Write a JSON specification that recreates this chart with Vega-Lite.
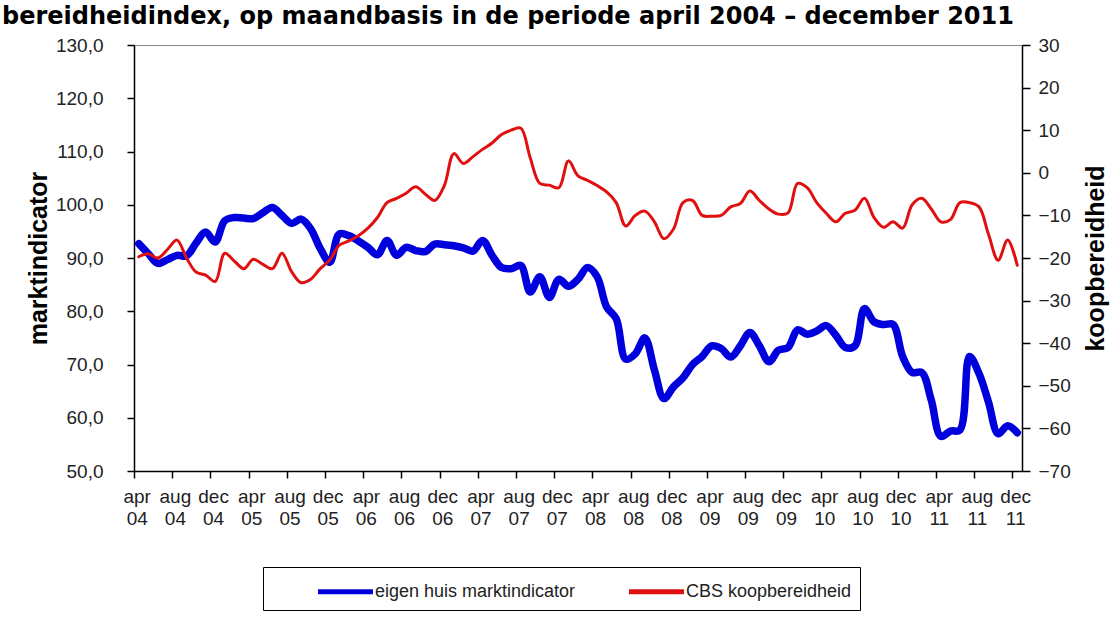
{
  "$schema": "https://vega.github.io/schema/vega-lite/v6.json",
  "width": 888,
  "height": 426,
  "autosize": {"type": "none"},
  "padding": {"left": 134, "top": 45, "right": 90, "bottom": 148},
  "background": "white",
  "title": {
    "text": "bereidheidindex, op maandbasis in de periode april 2004 – december 2011",
    "anchor": "start", "frame": "group", "dx": -132, "offset": -12,
    "baseline": "alphabetic", "font": "DejaVu Sans", "fontSize": 24, "fontWeight": "bold", "color": "black"
  },
  "config": {
    "view": {"stroke": "#888888", "strokeWidth": 1},
    "axis": {"grid": false, "domainColor": "black", "domainWidth": 1.5, "tickColor": "black", "tickWidth": 1.5,
             "labelFont": "Liberation Sans", "labelColor": "#222222", "titleFont": "Liberation Sans", "titleColor": "black"}
  },
  "data": {"values": [
    {"maand": 0, "marktindicator": 92.7, "koopbereidheid": -19.7},
    {"maand": 1, "marktindicator": 90.8, "koopbereidheid": -19.0},
    {"maand": 2, "marktindicator": 89.0, "koopbereidheid": -20.0},
    {"maand": 3, "marktindicator": 89.7, "koopbereidheid": -18.0},
    {"maand": 4, "marktindicator": 90.5, "koopbereidheid": -15.8},
    {"maand": 5, "marktindicator": 90.4, "koopbereidheid": -20.0},
    {"maand": 6, "marktindicator": 92.8, "koopbereidheid": -23.3},
    {"maand": 7, "marktindicator": 94.9, "koopbereidheid": -24.0},
    {"maand": 8, "marktindicator": 93.0, "koopbereidheid": -25.5},
    {"maand": 9, "marktindicator": 97.0, "koopbereidheid": -18.9},
    {"maand": 10, "marktindicator": 97.6, "koopbereidheid": -20.7},
    {"maand": 11, "marktindicator": 97.5, "koopbereidheid": -22.5},
    {"maand": 12, "marktindicator": 97.4, "koopbereidheid": -20.3},
    {"maand": 13, "marktindicator": 98.5, "koopbereidheid": -21.5},
    {"maand": 14, "marktindicator": 99.5, "koopbereidheid": -22.5},
    {"maand": 15, "marktindicator": 98.0, "koopbereidheid": -18.9},
    {"maand": 16, "marktindicator": 96.5, "koopbereidheid": -23.2},
    {"maand": 17, "marktindicator": 97.3, "koopbereidheid": -25.8},
    {"maand": 18, "marktindicator": 95.5, "koopbereidheid": -25.0},
    {"maand": 19, "marktindicator": 91.8, "koopbereidheid": -22.5},
    {"maand": 20, "marktindicator": 89.2, "koopbereidheid": -20.5},
    {"maand": 21, "marktindicator": 94.5, "koopbereidheid": -17.0},
    {"maand": 22, "marktindicator": 94.2, "koopbereidheid": -16.0},
    {"maand": 23, "marktindicator": 93.2, "koopbereidheid": -14.8},
    {"maand": 24, "marktindicator": 92.0, "koopbereidheid": -13.0},
    {"maand": 25, "marktindicator": 90.6, "koopbereidheid": -10.5},
    {"maand": 26, "marktindicator": 93.3, "koopbereidheid": -7.0},
    {"maand": 27, "marktindicator": 90.5, "koopbereidheid": -6.0},
    {"maand": 28, "marktindicator": 92.0, "koopbereidheid": -4.8},
    {"maand": 29, "marktindicator": 91.4, "koopbereidheid": -3.3},
    {"maand": 30, "marktindicator": 91.2, "koopbereidheid": -5.0},
    {"maand": 31, "marktindicator": 92.6, "koopbereidheid": -6.5},
    {"maand": 32, "marktindicator": 92.5, "koopbereidheid": -3.0},
    {"maand": 33, "marktindicator": 92.3, "koopbereidheid": 4.5},
    {"maand": 34, "marktindicator": 91.9, "koopbereidheid": 2.2},
    {"maand": 35, "marktindicator": 91.3, "koopbereidheid": 3.8},
    {"maand": 36, "marktindicator": 93.3, "koopbereidheid": 5.5},
    {"maand": 37, "marktindicator": 90.5, "koopbereidheid": 7.0},
    {"maand": 38, "marktindicator": 88.2, "koopbereidheid": 9.0},
    {"maand": 39, "marktindicator": 88.0, "koopbereidheid": 10.0},
    {"maand": 40, "marktindicator": 88.6, "koopbereidheid": 10.5},
    {"maand": 41, "marktindicator": 83.6, "koopbereidheid": 3.5},
    {"maand": 42, "marktindicator": 86.5, "koopbereidheid": -2.5},
    {"maand": 43, "marktindicator": 82.6, "koopbereidheid": -2.9},
    {"maand": 44, "marktindicator": 86.0, "koopbereidheid": -3.5},
    {"maand": 45, "marktindicator": 84.7, "koopbereidheid": 2.8},
    {"maand": 46, "marktindicator": 86.0, "koopbereidheid": -0.7},
    {"maand": 47, "marktindicator": 88.2, "koopbereidheid": -1.8},
    {"maand": 48, "marktindicator": 86.5, "koopbereidheid": -3.0},
    {"maand": 49, "marktindicator": 80.8, "koopbereidheid": -4.5},
    {"maand": 50, "marktindicator": 78.6, "koopbereidheid": -7.0},
    {"maand": 51, "marktindicator": 71.0, "koopbereidheid": -12.5},
    {"maand": 52, "marktindicator": 72.0, "koopbereidheid": -10.0},
    {"maand": 53, "marktindicator": 75.0, "koopbereidheid": -9.0},
    {"maand": 54, "marktindicator": 69.0, "koopbereidheid": -11.5},
    {"maand": 55, "marktindicator": 63.6, "koopbereidheid": -15.5},
    {"maand": 56, "marktindicator": 65.8, "koopbereidheid": -13.2},
    {"maand": 57, "marktindicator": 67.5, "koopbereidheid": -7.0},
    {"maand": 58, "marktindicator": 70.0, "koopbereidheid": -6.5},
    {"maand": 59, "marktindicator": 71.5, "koopbereidheid": -10.0},
    {"maand": 60, "marktindicator": 73.5, "koopbereidheid": -10.2},
    {"maand": 61, "marktindicator": 73.0, "koopbereidheid": -10.0},
    {"maand": 62, "marktindicator": 71.4, "koopbereidheid": -8.0},
    {"maand": 63, "marktindicator": 73.5, "koopbereidheid": -7.2},
    {"maand": 64, "marktindicator": 76.0, "koopbereidheid": -4.3},
    {"maand": 65, "marktindicator": 73.5, "koopbereidheid": -6.5},
    {"maand": 66, "marktindicator": 70.5, "koopbereidheid": -8.5},
    {"maand": 67, "marktindicator": 72.7, "koopbereidheid": -9.7},
    {"maand": 68, "marktindicator": 73.2, "koopbereidheid": -9.4},
    {"maand": 69, "marktindicator": 76.5, "koopbereidheid": -2.5},
    {"maand": 70, "marktindicator": 75.7, "koopbereidheid": -3.5},
    {"maand": 71, "marktindicator": 76.3, "koopbereidheid": -7.0},
    {"maand": 72, "marktindicator": 77.3, "koopbereidheid": -9.5},
    {"maand": 73, "marktindicator": 75.5, "koopbereidheid": -11.5},
    {"maand": 74, "marktindicator": 73.2, "koopbereidheid": -9.5},
    {"maand": 75, "marktindicator": 73.5, "koopbereidheid": -8.8},
    {"maand": 76, "marktindicator": 80.5, "koopbereidheid": -6.0},
    {"maand": 77, "marktindicator": 78.0, "koopbereidheid": -10.5},
    {"maand": 78, "marktindicator": 77.5, "koopbereidheid": -12.8},
    {"maand": 79, "marktindicator": 77.5, "koopbereidheid": -11.5},
    {"maand": 80, "marktindicator": 71.5, "koopbereidheid": -13.0},
    {"maand": 81, "marktindicator": 68.5, "koopbereidheid": -7.5},
    {"maand": 82, "marktindicator": 68.5, "koopbereidheid": -6.0},
    {"maand": 83, "marktindicator": 63.3, "koopbereidheid": -8.5},
    {"maand": 84, "marktindicator": 56.5, "koopbereidheid": -11.5},
    {"maand": 85, "marktindicator": 57.5, "koopbereidheid": -11.0},
    {"maand": 86, "marktindicator": 57.7, "koopbereidheid": -7.0},
    {"maand": 87, "marktindicator": 71.5, "koopbereidheid": -7.0},
    {"maand": 88, "marktindicator": 68.3, "koopbereidheid": -8.0},
    {"maand": 89, "marktindicator": 62.9, "koopbereidheid": -14.5},
    {"maand": 90, "marktindicator": 57.0, "koopbereidheid": -20.5},
    {"maand": 91, "marktindicator": 58.5, "koopbereidheid": -15.8},
    {"maand": 92, "marktindicator": 57.2, "koopbereidheid": -21.7}
  ]},
  "encoding": {
    "x": {
      "field": "maand", "type": "quantitative",
      "scale": {"domain": [-0.5, 92.5], "nice": false, "zero": false},
      "axis": {
        "title": null,
        "values": [0, 4, 8, 12, 16, 20, 24, 28, 32, 36, 40, 44, 48, 52, 56, 60, 64, 68, 72, 76, 80, 84, 88, 92],
        "tickOffset": -4.77, "labelOffset": 2.7, "tickSize": 7,
        "labelExpr": "[['apr','aug','dec'][(datum.value/4)%3], slice('0' + (4 + floor(datum.value/12)), -2)]",
        "labelFontSize": 19, "labelLineHeight": 22, "labelPadding": 9, "labelFlush": false, "labelOverlap": false
      }
    }
  },
  "layer": [
    {
      "mark": {"type": "line", "strokeWidth": 7.5, "interpolate": "catmull-rom", "strokeCap": "round", "strokeJoin": "round"},
      "encoding": {
        "y": {
          "field": "marktindicator", "type": "quantitative",
          "scale": {"domain": [50, 130], "nice": false, "zero": false},
          "axis": {
            "title": "marktindicator", "titleFontSize": 25, "titleFontWeight": "bold",
            "values": [50, 60, 70, 80, 90, 100, 110, 120, 130],
            "labelExpr": "replace(format(datum.value, '.1f'), '.', ',')",
            "labelFontSize": 19, "tickSize": 7, "labelPadding": 24, "titlePadding": 4
          }
        },
        "color": {
          "datum": "eigen huis marktindicator",
          "scale": {"domain": ["eigen huis marktindicator", "CBS koopbereidheid"], "range": ["#0000dd", "#e01010"]},
          "legend": {
            "title": null, "orient": "none", "legendX": 129, "legendY": 522, "direction": "horizontal",
            "strokeColor": "black", "padding": 8, "symbolOffset": 58, "symbolType": "M-2,0H2",
            "symbolSize": 756, "symbolStrokeWidth": 5, "labelFont": "Liberation Sans", "labelFontSize": 18,
            "labelColor": "#222222", "labelOffset": 13, "labelLimit": 400, "columnPadding": 6
          }
        }
      }
    },
    {
      "mark": {"type": "line", "strokeWidth": 3, "interpolate": "catmull-rom", "strokeCap": "round", "strokeJoin": "round"},
      "encoding": {
        "y": {
          "field": "koopbereidheid", "type": "quantitative",
          "scale": {"domain": [-70, 30], "nice": false, "zero": false},
          "axis": {
            "orient": "right", "title": "koopbereidheid", "titleFontSize": 25, "titleFontWeight": "bold", "titleAngle": 270,
            "values": [-70, -60, -50, -40, -30, -20, -10, 0, 10, 20, 30], "format": "d",
            "labelFontSize": 19, "tickSize": 8, "labelPadding": 8, "titlePadding": 38
          }
        },
        "color": {"datum": "CBS koopbereidheid"}
      }
    }
  ],
  "resolve": {"scale": {"y": "independent"}}
}
